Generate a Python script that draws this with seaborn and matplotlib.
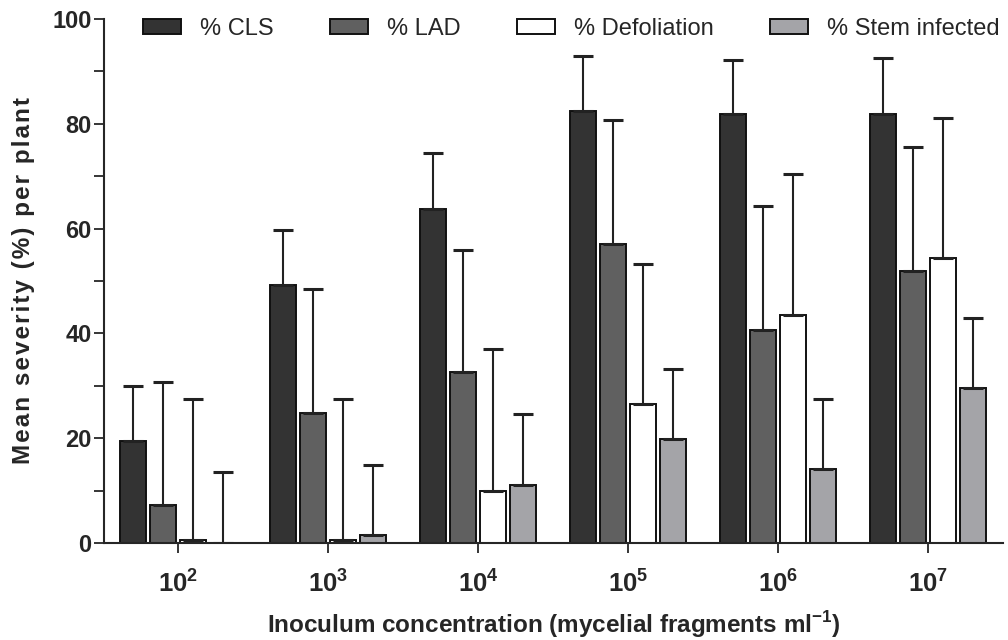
import matplotlib
matplotlib.use("Agg")
import matplotlib.pyplot as plt
import numpy as np
import pandas as pd
import seaborn as sns

# Inoculum concentrations (tick labels) and disease measurements
concentrations = ["$\\mathbf{10^{2}}$", "$\\mathbf{10^{3}}$", "$\\mathbf{10^{4}}$",
                  "$\\mathbf{10^{5}}$", "$\\mathbf{10^{6}}$", "$\\mathbf{10^{7}}$"]
series = ["% CLS", "% LAD", "% Defoliation", "% Stem infected"]

cls_mean = [19.5, 49.3, 63.8, 82.5, 81.9, 81.9]
cls_sd = [10.5, 10.4, 10.6, 10.4, 10.3, 10.7]
lad_mean = [7.3, 24.9, 32.7, 57.1, 40.6, 52.0]
lad_sd = [23.4, 23.5, 23.2, 23.6, 23.7, 23.6]
defol_mean = [0.6, 0.6, 9.9, 26.5, 43.6, 54.3]
defol_sd = [26.9, 26.9, 27.2, 26.7, 26.8, 26.9]
stem_mean = [0.0, 1.5, 11.1, 19.8, 14.1, 29.6]
stem_sd = [13.5, 13.4, 13.5, 13.5, 13.4, 13.4]

colors = ["#333333", "#606060", "#ffffff", "#a4a4a8"]

means = [cls_mean, lad_mean, defol_mean, stem_mean]
sds = [cls_sd, lad_sd, defol_sd, stem_sd]

rows = []
for s, m, e in zip(series, means, sds):
    for c, v, sd in zip(concentrations, m, e):
        rows.append({"conc": c, "series": s, "mean": v, "sd": sd})
df = pd.DataFrame(rows)

sns.set_style("ticks")
plt.rcParams["font.family"] = ["Liberation Sans", "DejaVu Sans"]
plt.rcParams["mathtext.fontset"] = "custom"
plt.rcParams["mathtext.bf"] = "Liberation Sans:bold"
plt.rcParams["mathtext.rm"] = "Liberation Sans"

fig = plt.figure(figsize=(10.08, 6.4), dpi=100)
ax = fig.add_axes([104 / 1008, 97 / 640, 899 / 1008, 524 / 640])

sns.barplot(data=df, x="conc", y="mean", hue="series", hue_order=series,
            order=concentrations, palette=colors, width=0.8, gap=0.13,
            edgecolor="#111111", linewidth=1.4, errorbar=None, ax=ax,
            saturation=1)

# Upper-only error bars placed on each bar
for container, sd_list in zip(ax.containers, sds):
    xs = [p.get_x() + p.get_width() / 2 for p in container.patches]
    ys = [p.get_height() for p in container.patches]
    ax.errorbar(xs, ys, yerr=[np.zeros(len(sd_list)), sd_list], fmt="none",
                ecolor="#222222", elinewidth=1.5, capsize=7, capthick=2.2,
                zorder=1)

ax.set_xlim(-0.493, 5.5)
ax.set_ylim(0, 100)
ax.set_yticks([0, 20, 40, 60, 80, 100])
ax.set_yticks(np.arange(10, 100, 20), minor=True)
ax.tick_params(axis="y", which="major", length=7, width=1.3, labelsize=17, pad=2)
ax.tick_params(axis="y", which="minor", length=7, width=1.3)
ax.tick_params(axis="x", which="major", length=7, width=1.3, labelsize=18.5, pad=13)
for lbl in ax.get_yticklabels():
    lbl.set_fontweight("bold")

for side in ["left", "bottom"]:
    ax.spines[side].set_linewidth(1.5)
sns.despine(ax=ax)

# letter-spaced axis title
ylab = "\u200a".join("Mean severity (%) per plant")
ax.set_ylabel(ylab, fontsize=17.5, fontweight="bold", labelpad=12)
ax.set_xlabel("Inoculum concentration (mycelial fragments ml$^{\\mathbf{-1}}$)",
              fontsize=17.5, fontweight="bold", labelpad=8)

handles, labels = ax.get_legend_handles_labels()
ax.legend(handles, labels, ncol=4, frameon=False, fontsize=17,
          loc="upper left", bbox_to_anchor=(0.033, 1.02),
          handlelength=1.6, handleheight=0.6, columnspacing=2.4,
          handletextpad=0.8, borderaxespad=0)

fig.savefig("out.png", dpi=100)
